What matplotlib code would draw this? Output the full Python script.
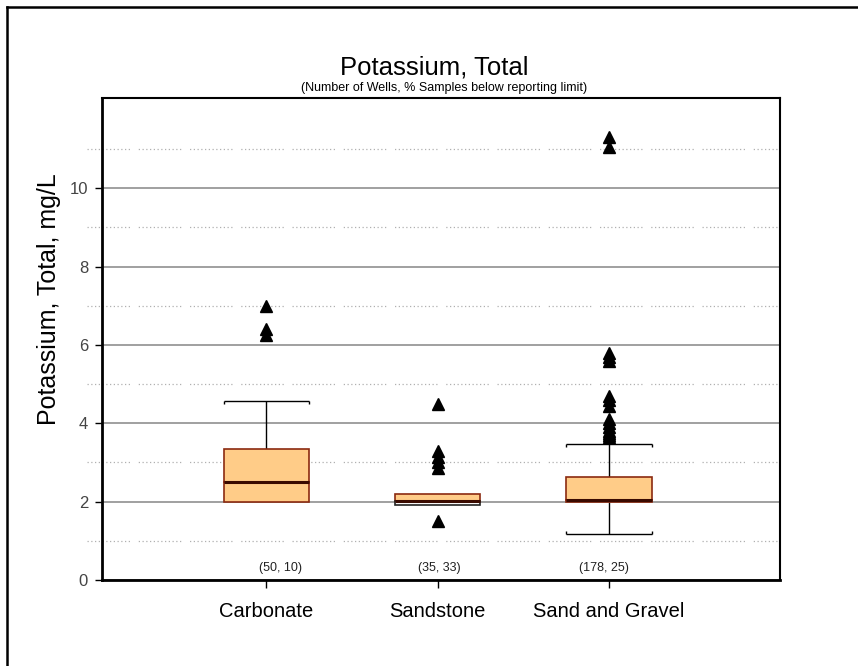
import matplotlib
matplotlib.use("Agg")
import matplotlib.pyplot as plt
import matplotlib.transforms as mtransforms
from matplotlib.lines import Line2D

plt.rcParams['font.family'] = ['Liberation Sans', 'DejaVu Sans']

categories = ['Carbonate', 'Sandstone', 'Sand and Gravel']
q1 = [2.0, 1.91, 2.0]
median = [2.49, 2.01, 2.03]
q3 = [3.35, 2.2, 2.62]
whisker_lo = [2.0, 1.91, 1.18]
whisker_hi = [4.57, 2.2, 3.47]

carbonate_out = [7.0, 6.4, 6.25]
sandstone_out = [4.5, 3.3, 3.15, 3.0, 2.85, 1.5]
gravel_out = [11.3, 11.05, 5.8, 5.7, 5.6, 4.7, 4.6, 4.45, 4.1, 4.0,
              3.9, 3.8, 3.75, 3.7, 3.65]
outliers = [carbonate_out, sandstone_out, gravel_out]

wells = [50, 35, 178]
pct_below = [10, 33, 25]

# styling
box_face = '#FFCC88'
box_edge = '#8B2A10'
lower_face = [box_face, 'white', box_face]
lower_edge = [box_edge, '#222222', box_edge]
label_shift = [0.08, 0.01, -0.03]
box_w = 0.5

fig = plt.figure(figsize=(8.58, 6.66), dpi=100)
ax = fig.add_axes([102 / 858, 1 - 580 / 666, 678 / 858, 482 / 666])

x = list(range(1, len(categories) + 1))
ax.set_xlim(0.04, 4.0)
ax.set_ylim(0, 12.3)

# grid
ax.set_yticks([0, 2, 4, 6, 8, 10])
ax.yaxis.grid(True, color='#999999', linewidth=1.3, zorder=0)
ax.set_axisbelow(True)
trans = mtransforms.blended_transform_factory(ax.transAxes, ax.transData)
for v in [1, 3, 5, 7, 9, 11]:
    ln = Line2D([-0.022, 1.0], [v, v], transform=trans, color='#b0b0b0',
                linewidth=0.9, dashes=[1, 2] * 11 + [1, 7], clip_on=False, zorder=0)
    ax.add_line(ln)

# boxes
ax.bar(x, [h - m for h, m in zip(q3, median)], bottom=median, width=box_w,
       color=box_face, edgecolor=box_edge, linewidth=1.2, zorder=2)
for i in range(len(x)):
    ax.bar(x[i], median[i] - q1[i], bottom=q1[i], width=box_w,
           color=lower_face[i], edgecolor=lower_edge[i], linewidth=1.2, zorder=2)
ax.hlines(median, [xi - box_w / 2 for xi in x], [xi + box_w / 2 for xi in x],
          colors='#3a0a00', linewidth=2.2, zorder=3)

# whiskers
for i in range(len(x)):
    if whisker_hi[i] > q3[i]:
        ax.vlines(x[i], q3[i], whisker_hi[i], colors='black', linewidth=1, zorder=1)
        ax.hlines(whisker_hi[i], x[i] - box_w / 2, x[i] + box_w / 2,
                  colors='black', linewidth=1, zorder=1)
        ax.vlines([x[i] - box_w / 2, x[i] + box_w / 2], whisker_hi[i],
                  whisker_hi[i] - 0.08, colors='black', linewidth=1, zorder=1)
    if whisker_lo[i] < q1[i]:
        ax.vlines(x[i], whisker_lo[i], q1[i], colors='black', linewidth=1, zorder=1)
        ax.hlines(whisker_lo[i], x[i] - box_w / 2, x[i] + box_w / 2,
                  colors='black', linewidth=1, zorder=1)
        ax.vlines([x[i] - box_w / 2, x[i] + box_w / 2], whisker_lo[i],
                  whisker_lo[i] + 0.08, colors='black', linewidth=1, zorder=1)

# outliers
for i in range(len(x)):
    ax.plot([x[i]] * len(outliers[i]), outliers[i], linestyle='none',
            marker='^', markersize=9, color='black', zorder=4)

# counts
for i in range(len(x)):
    ax.text(x[i] + label_shift[i], 0.31, f'({wells[i]}, {pct_below[i]})',
            ha='center', va='center', fontsize=9, color='#222222')

ax.set_xticks(x)
ax.set_xticklabels(categories, fontsize=14.5)
ax.tick_params(axis='x', direction='out', length=6, width=1, pad=10)
ax.tick_params(axis='y', direction='out', length=5, width=1, pad=5,
               labelsize=12, labelcolor='#444444')

for side in ['left', 'bottom']:
    ax.spines[side].set_linewidth(2)
for side in ['top', 'right']:
    ax.spines[side].set_linewidth(1.5)

fig.text(49 / 858, 1 - 299 / 666, 'Potassium, Total, mg/L', rotation=90,
         ha='center', va='center', fontsize=18)
fig.text(434 / 858, 1 - 68 / 666, 'Potassium, Total', ha='center', va='center',
         fontsize=18.5)
fig.text(444 / 858, 1 - 88 / 666,
         '(Number of Wells, % Samples below reporting limit)',
         ha='center', va='center', fontsize=9)

# cropped outer frame: top and left edges only
fig.add_artist(Line2D([7 / 858, 1.0], [1 - 7 / 666, 1 - 7 / 666],
                      transform=fig.transFigure, color='black', linewidth=1.8))
fig.add_artist(Line2D([7 / 858, 7 / 858], [0, 1 - 7 / 666],
                      transform=fig.transFigure, color='black', linewidth=1.8))

fig.savefig('out.png', dpi=100)
